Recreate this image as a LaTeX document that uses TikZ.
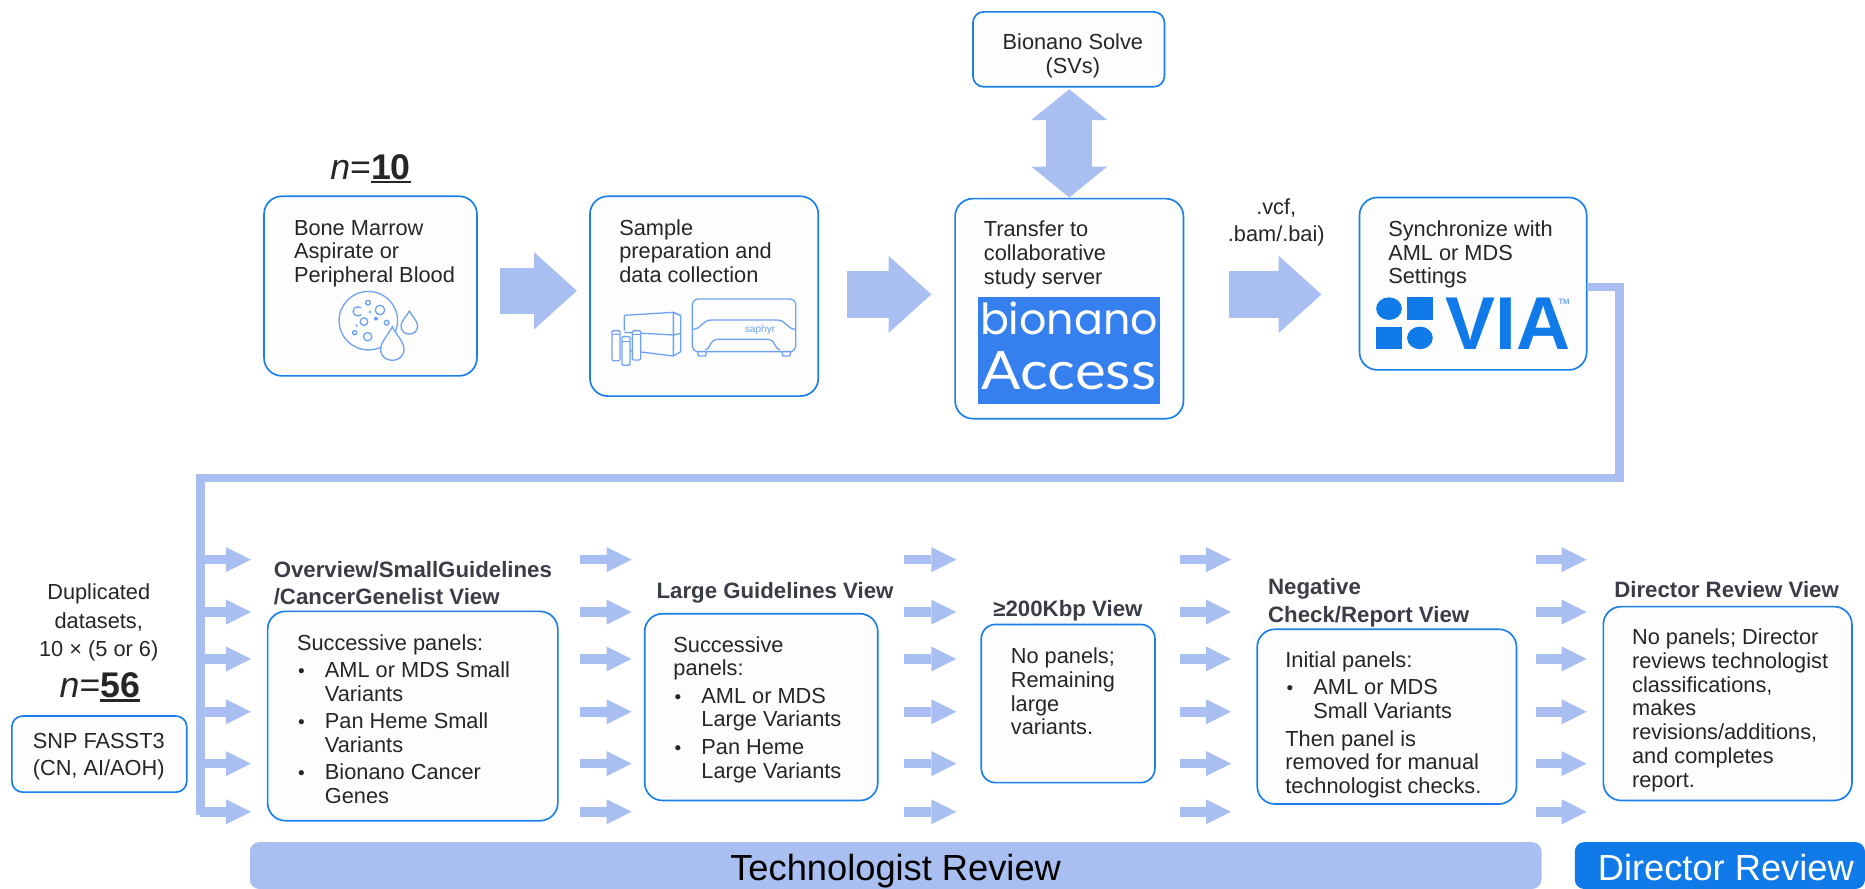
\documentclass[tikz,border=0pt]{standalone}
\usepackage{fontspec}
\setmainfont{Liberation Sans}
\newfontfamily\poppinsf{Poppins}
\newfontfamily\latof{Lato}
\usetikzlibrary{arrows.meta}
\definecolor{arrowblue}{HTML}{A9BFF2}
\definecolor{edgeblue}{HTML}{1A7FE8}
\definecolor{solidblue}{HTML}{0F7AE8}
\definecolor{accessblue}{HTML}{3580EE}
\definecolor{inktext}{HTML}{262626}
\definecolor{titletext}{HTML}{3A3D46}
\definecolor{iconblue}{HTML}{6FA3F2}
\definecolor{boxfill}{HTML}{FDFDFD}
\newcommand\nul[1]{\setbox0=\hbox{\bfseries #1}\rlap{\rule[-3.6pt]{\wd0}{2.3pt}}\box0}
\newcommand\bul{\makebox[23.5pt][l]{\hspace*{1pt}\fontsize{16}{20}\selectfont •}}
\newcommand\ind{\hspace*{23.5pt}}
\newcommand\bigbox[6]{\node[flowbox,rounded corners=#6pt,minimum width={#4-#2},minimum height={#5-#3}] (#1) at ({(#2+#4)/2},{(#3+#5)/2}) {};}
\newcommand\txt[4]{\node[bodytext] (#1) at ({#2},{#3-14}) {\strut #4};}
\newcommand\ttl[4]{\node[titletxt] (#1) at ({#2},{#3-16.1}) {\strut #4};}
\tikzset{
  flowbox/.style={draw=edgeblue,fill=boxfill,line width=1.4pt,inner sep=0pt,outer sep=0pt},
  bodytext/.style={anchor=north west,inner sep=0pt,align=left,text=inktext,font=\fontsize{18.3}{20}\selectfont},
  titletxt/.style={anchor=north west,inner sep=0pt,align=left,text=titletext,font=\fontsize{18.7}{23}\selectfont\bfseries},
  centertxt/.style={inner sep=0pt,align=center,text=inktext,font=\fontsize{18.3}{20}\selectfont},
  bigarrow/.style={draw=arrowblue,line width=39pt,-{Triangle[length=36pt,width=65pt,line width=0pt]}},
  twoway/.style={draw=arrowblue,line width=39pt,{Triangle[length=26pt,width=64pt,line width=0pt]}-{Triangle[length=26pt,width=64pt,line width=0pt]}},
  smallarrow/.style={draw=arrowblue,line width=8pt,-{Triangle[length=21pt,width=21pt,line width=0pt]}},
  bus/.style={draw=arrowblue,line width=7pt},
  icon/.style={draw=iconblue,line width=1.1pt},
  bar/.style={inner sep=0pt,outer sep=0pt,rounded corners=8pt}
}
\begin{document}
\begin{tikzpicture}[x=1pt,y=-1pt]
\useasboundingbox (0,0) rectangle (1568,747.4);

% bars
\node[bar,fill=arrowblue,minimum width=1086pt,minimum height=39.4pt] (techbar) at (753,727.7) {};
\node[bar,fill=solidblue,minimum width=244pt,minimum height=39.4pt] (dirbar) at (1446,727.7) {};
\node[inner sep=0pt,text=black,font=\fontsize{30.5}{34}\selectfont,anchor=base] (techlabel) at (753,740) {Technologist Review};
\node[inner sep=0pt,text=white,font=\fontsize{30.5}{34}\selectfont,anchor=base] (dirlabel) at (1451,740) {Director Review};

% top row boxes
\bigbox{box1}{222}{165}{401}{316}{15}
\bigbox{box2}{496}{165}{688}{333}{15}
\bigbox{box3}{803}{167}{995}{352}{15}
\bigbox{box4}{1143}{166}{1334}{311}{15}
\bigbox{solve}{818}{10}{979}{73}{9}

% lower boxes
\bigbox{lowa}{225}{514}{469}{690}{15}
\bigbox{lowb}{542}{516}{738}{673}{15}
\bigbox{lowc}{825}{525}{971}{658}{12}
\bigbox{lowd}{1057}{529}{1275}{676}{15}
\bigbox{lowe}{1348}{510}{1557}{673}{15}
\bigbox{snp}{10}{602}{157}{666}{9}

% big arrows
\draw[bigarrow,shorten <=19pt,shorten >=11pt] (box1.east |- 0,244.5) -- (box2.west |- 0,244.5);
\draw[bigarrow,shorten <=24pt,shorten >=20pt] (box2.east |- 0,247.5) -- (box3.west |- 0,247.5);
\draw[bigarrow,shorten <=38pt,shorten >=32pt] (box3.east |- 0,247.5) -- (box4.west |- 0,247.5);
\draw[twoway,shorten <=2pt,shorten >=1pt] (solve.south -| box3.north) -- (box3.north);

% bus connector
\draw[bus] (box4.east |- 0,241.5) -- (1361.5,241.5) -- (1361.5,402) -- (168.5,402) -- (168.5,685);

% small arrows
\foreach \y in {470.5,514.6,554,598.4,642,682.5}{
  \draw[smallarrow,shorten >=14pt] (168.5,\y) -- (lowa.west |- 0,\y);
  \draw[smallarrow,shorten <=19pt,shorten >=11pt] (lowa.east |- 0,\y) -- (lowb.west |- 0,\y);
  \draw[smallarrow,shorten <=22pt,shorten >=21pt] (lowb.east |- 0,\y) -- (lowc.west |- 0,\y);
  \draw[smallarrow,shorten <=21pt,shorten >=22pt] (lowc.east |- 0,\y) -- (lowd.west |- 0,\y);
  \draw[smallarrow,shorten <=16pt,shorten >=14pt] (lowd.east |- 0,\y) -- (lowe.west |- 0,\y);
}

% top texts
\node[inner sep=0pt,text=inktext,font=\fontsize{30}{32}\selectfont,anchor=base] (nten) at (311.5,150.5) {\textit{n}=\nul{10}};
\txt{t1}{247}{197.5}{Bone Marrow\\Aspirate or\\Peripheral Blood}
\txt{t2}{520.5}{197.5}{Sample\\preparation and\\data collection}
\txt{t3}{827}{199}{Transfer to\\collaborative\\study server}
\txt{t4}{1167}{198.5}{Synchronize with\\AML or MDS\\Settings}
\node[centertxt,anchor=base] (tsolve) at (902,61.5) {Bionano Solve\\(SVs)};
\node[centertxt,anchor=base] (tvcf) at (1073,203) {.vcf,\\[3pt].bam/.bai)};

% Bionano Access logo
\node[fill=accessblue,inner sep=0pt,outer sep=0pt,minimum width=152.4pt,minimum height=90.3pt] (accessbg) at (898.8,294.5) {};
\node[inner sep=0pt,text=white,font=\fontsize{36}{38}\poppinsf\selectfont,anchor=base] (lbionano) at (898.8,281) {bionano};
\node[inner sep=0pt,text=white,font=\fontsize{44.5}{46}\latof\selectfont,anchor=base] (laccess) at (898.8,327.5) {\scalebox{1.1}[1]{Access}};

% VIA logo
\fill[solidblue] (1167.8,259.5) ellipse (10.8pt and 9.5pt);
\fill[solidblue] (1183,250) rectangle (1204.6,269);
\fill[solidblue] (1157,274.6) rectangle (1178.6,293.7);
\fill[solidblue] (1193.8,284.1) ellipse (10.8pt and 9.5pt);
\node[inner sep=0pt,text=solidblue,font=\fontsize{63}{64}\selectfont\bfseries,anchor=base west] (lvia) at (1215,294) {VIA};
\node[inner sep=0pt,text=iconblue,font=\fontsize{6.5}{7}\selectfont\bfseries,anchor=base] (ltm) at (1315,256) {TM};

% sample icon
\begin{scope}[shift={(252.2,227)},x=0.2803pt,y=-0.2803pt]
  \draw[icon] (205,152) circle (24.6pt);
  \draw[icon] (204,98) circle (2pt);
  \draw[icon] (184,133) arc (40:310:14) ;
  \draw[icon] (240,120) circle (4pt);
  \draw[icon] (192,155) circle (3.2pt);
  \draw[icon] (260,158) circle (2pt);
  \draw[icon] (164,188) circle (1.8pt);
  \draw[icon] (203,200) circle (3.5pt);
  \fill[iconblue] (210,126) circle (1.1pt) (228,146) circle (1.7pt) (170,167) circle (1pt);
  \draw[icon,fill=boxfill] (277,170) .. controls (265,195) and (242,215) .. (242,238) .. controls (242,282) and (312,282) .. (312,238) .. controls (312,215) and (289,195) .. (277,170) -- cycle;
  \draw[icon,fill=boxfill] (328,123) .. controls (320,140) and (303,152) .. (303,168) .. controls (303,200) and (353,200) .. (353,168) .. controls (353,152) and (336,140) .. (328,123) -- cycle;
\end{scope}

% instrument icon
\begin{scope}[shift={(496.05,252.2)},x=0.2803pt,y=-0.2803pt]
  \draw[icon] (103,46) -- (250,37) -- (272,47) -- (272,155) -- (250,168) -- (103,150);
  \draw[icon] (103,46) -- (103,92) (250,37) -- (250,168) (272,47) -- (250,37);
  \draw[icon] (103,97) -- (250,105) -- (272,100);
  \draw[icon,fill=boxfill,rounded corners=1pt] (66,92) rectangle (90,182);
  \draw[icon,fill=boxfill,rounded corners=1pt] (127,92) rectangle (152,180);
  \draw[icon,fill=boxfill,rounded corners=1pt] (96,110) rectangle (120,196);
  \draw[icon] (66,104) -- (90,104) (127,104) -- (152,104) (96,124) -- (120,124);
  \draw[icon,rounded corners=5pt] (307,-3) rectangle (617,155);
  \draw[icon] (307,88) .. controls (335,88) and (335,60) .. (365,60) -- (560,60) .. controls (590,60) and (590,88) .. (617,88);
  \draw[icon] (345,150) .. controls (360,150) and (360,118) .. (380,118) -- (535,118) .. controls (555,118) and (555,150) .. (570,150);
  \draw[icon] (322,155) -- (326,168) -- (346,168) -- (350,155) (575,155) -- (579,168) -- (599,168) -- (603,155);
  \node[inner sep=0pt,text=iconblue,font=\fontsize{8.5}{9}\selectfont] (lsaphyr) at (510,90) {saphyr};
\end{scope}

% lower texts
\ttl{ta}{230}{485}{Overview/SmallGuidelines\\/CancerGenelist View}
\txt{ba}{249.5}{546.5}{Successive panels:\\[3pt]\bul AML or MDS Small\\\ind Variants\\[3pt]\bul Pan Heme Small\\\ind Variants\\[3pt]\bul Bionano Cancer\\\ind Genes}
\ttl{tb}{551.8}{503}{Large Guidelines View}
\txt{bb}{566}{548}{Successive\\panels:\\[3pt]\bul AML or MDS\\\ind Large Variants\\[3pt]\bul Pan Heme\\\ind Large Variants}
\ttl{tc}{835}{518}{≥200Kbp View}
\txt{bc}{849.7}{557.7}{No panels;\\Remaining\\large\\variants.}
\ttl{td}{1066}{500}{Negative\\Check/Report View}
\txt{bd}{1080.5}{561}{Initial panels:\\[3pt]\bul AML or MDS\\\ind Small Variants\\[3pt]Then panel is\\removed for manual\\technologist checks.}
\ttl{te}{1357}{502.5}{Director Review View}
\txt{be}{1372}{541.6}{No panels; Director\\reviews technologist\\classifications,\\makes\\revisions/additions,\\and completes\\report.}

% left column
\node[centertxt,anchor=base] (tdup) at (83,552) {Duplicated\\[4pt]datasets,\\[4pt]10 × (5 or 6)};
\node[inner sep=0pt,text=inktext,font=\fontsize{30}{32}\selectfont,anchor=base] (nfifty) at (84,586.6) {\textit{n}=\nul{56}};
\node[centertxt,anchor=base] (tsnp) at (83,652) {SNP FASST3\\[3pt](CN, AI/AOH)};
\end{tikzpicture}
\end{document}
